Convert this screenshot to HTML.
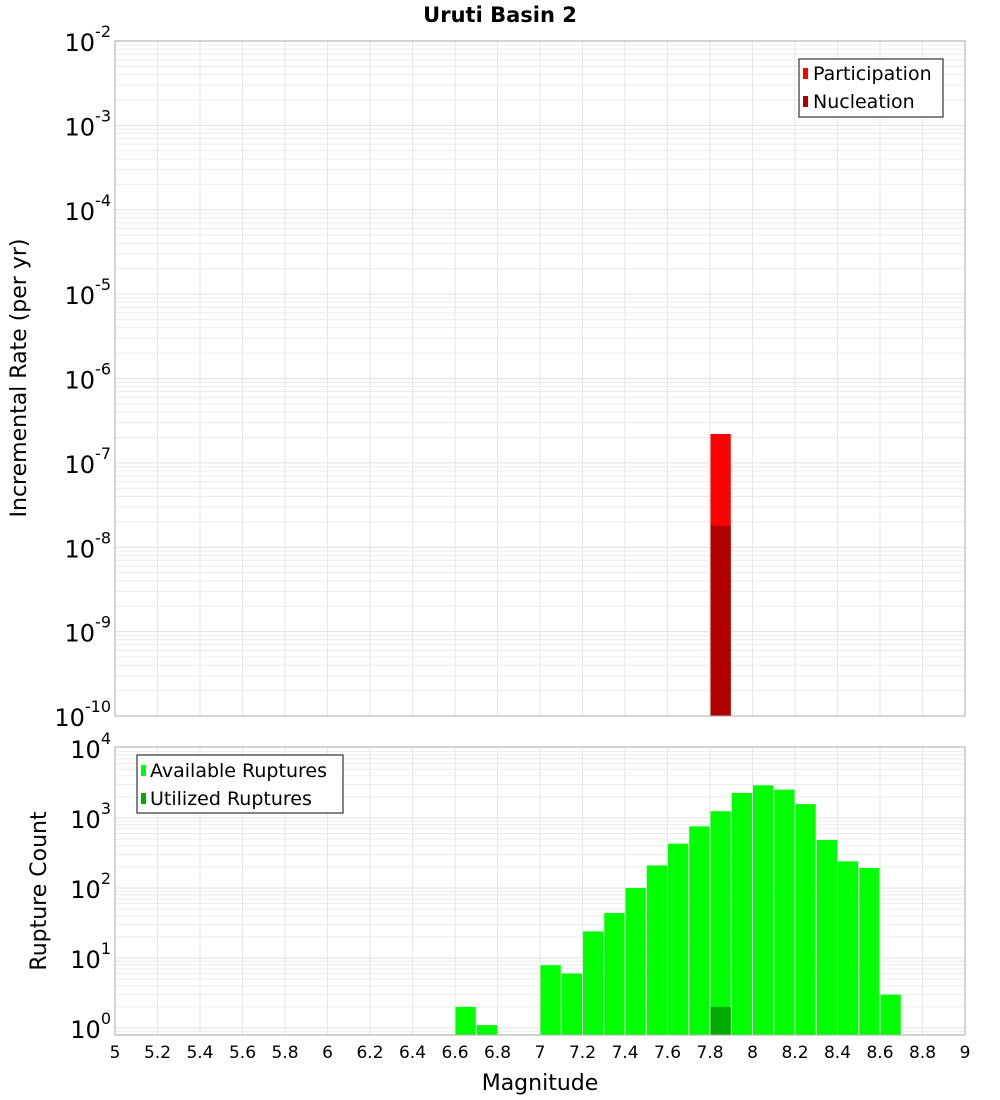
<!DOCTYPE html>
<html><head><meta charset="utf-8"><style>
body{margin:0;background:#fff;}
svg{display:block;font-family:"DejaVu Sans","Liberation Sans",sans-serif;}
</style></head><body>
<svg id="chart" width="1000" height="1100" xmlns="http://www.w3.org/2000/svg">
<text x="500" y="22" text-anchor="middle" font-size="21" font-weight="bold">Uruti Basin 2</text>
<g id="topPlot"></g>
<g id="botPlot"></g>
<text transform="translate(26,378) rotate(-90)" text-anchor="middle" font-size="22">Incremental Rate (per yr)</text>
<text transform="translate(46,891) rotate(-90)" text-anchor="middle" font-size="22">Rupture Count</text>
<text x="540" y="1090" text-anchor="middle" font-size="22">Magnitude</text>
<g>
<rect x="799" y="59" width="144" height="58" fill="#fff" stroke="#333" stroke-width="1.2"/>
<rect x="803" y="68" width="5" height="11" fill="#ff0000"/>
<text x="813" y="80" font-size="19">Participation</text>
<rect x="803" y="96" width="5" height="11" fill="#b00000"/>
<text x="813" y="108" font-size="19">Nucleation</text>
</g>
<g>
<rect x="137" y="755" width="206" height="58" fill="#fff" stroke="#333" stroke-width="1.2"/>
<rect x="141" y="765" width="5" height="11" fill="#00ff00"/>
<text x="150" y="777" font-size="19">Available Ruptures</text>
<rect x="141" y="793" width="5" height="11" fill="#00aa00"/>
<text x="150" y="805" font-size="19">Utilized Ruptures</text>
</g>
</svg>
<script>
const xTicks=[5,5.2,5.4,5.6,5.8,6,6.2,6.4,6.6,6.8,7,7.2,7.4,7.6,7.8,8,8.2,8.4,8.6,8.8,9];
const topMags=[7.8];
const participation=[2.2e-7];
const nucleation=[1.8e-8];
const botMags=[6.6,6.7,7.0,7.1,7.2,7.3,7.4,7.5,7.6,7.7,7.8,7.9,8.0,8.1,8.2,8.3,8.4,8.5,8.6];
const available=[2,1.1,7.9,6,24,44,100,210,430,760,1250,2280,2930,2540,1580,485,240,193,3];
const utilMags=[7.8];
const utilized=[2];
const topDecades=[-2,-3,-4,-5,-6,-7,-8,-9,-10];
const botDecades=[0,1,2,3,4];

const NS="http://www.w3.org/2000/svg";
const X0=115,X1=965;
function xs(m){return X0+(m-5)/4*(X1-X0);}
const TT=41,TB=716;
function yTop(v){return TT+(-2-Math.log10(v))/8*(TB-TT);}
const BT=747,BB=1035;
function yBot(v){return 1028-Math.log10(v)*70;}
function el(p,t,a){const e=document.createElementNS(NS,t);for(const k in a)e.setAttribute(k,a[k]);p.appendChild(e);return e;}
const gTop=document.getElementById('topPlot'),gBot=document.getElementById('botPlot');

function grid(g,yT,yB,yf,lo,hi){
  for(let d=lo;d<hi;d++)for(let k=1;k<10;k++){const y=yf(k*Math.pow(10,d));if(y>=yT&&y<=yB){
    const l=el(g,'line',{x1:X0,x2:X1,y1:y,y2:y,stroke:k==1?'#e0e0e0':'#ececec','stroke-width':1});
    
    }}
  xTicks.forEach(t=>{const l=el(g,'line',{x1:xs(t),x2:xs(t),y1:yT,y2:yB,stroke:'#e6e6e6','stroke-width':1});
    
    });
}
grid(gTop,TT,TB,yTop,-10,-2);
grid(gBot,BT,BB,yBot,-1,4);

function bar(g,m,v,yf,yB,fill,name){
  const x=xs(m),w=xs(m+0.1)-x,y=yf(v);
  const r=el(g,'rect',{x:x+0.5,y:y,width:w-1,height:yB-y,fill:fill});
  
  
}
topMags.forEach((m,i)=>bar(gTop,m,participation[i],yTop,TB,'#ff0000','participation-bar'));
topMags.forEach((m,i)=>bar(gTop,m,nucleation[i],yTop,TB,'#b00000','nucleation-bar'));
botMags.forEach((m,i)=>bar(gBot,m,available[i],yBot,BB,'#00ff00','available-bar'));
utilMags.forEach((m,i)=>bar(gBot,m,utilized[i],yBot,BB,'#00aa00','utilized-bar'));

let f=el(gTop,'rect',{x:X0,y:TT,width:X1-X0,height:TB-TT,fill:'none',stroke:'#aaa'});


f=el(gBot,'rect',{x:X0,y:BT,width:X1-X0,height:BB-BT,fill:'none',stroke:'#aaa'});



function ylabel(g,y,exp){
  const t=el(g,'text',{x:X0-4,y:y+10,'text-anchor':'end','font-size':24});
  
  
  const a=el(t,'tspan',{});a.textContent='10';
  const b=el(t,'tspan',{dy:-14,'font-size':16});b.textContent=String(exp);
}
topDecades.forEach(d=>{ylabel(gTop,yTop(Math.pow(10,d)),d);});
botDecades.forEach(d=>{ylabel(gBot,yBot(Math.pow(10,d)),d);});
xTicks.forEach(t=>{const e=el(gBot,'text',{x:xs(t),y:1058,'text-anchor':'middle','font-size':17});
  e.textContent=String(t);
  
  });
</script>
</body></html>
